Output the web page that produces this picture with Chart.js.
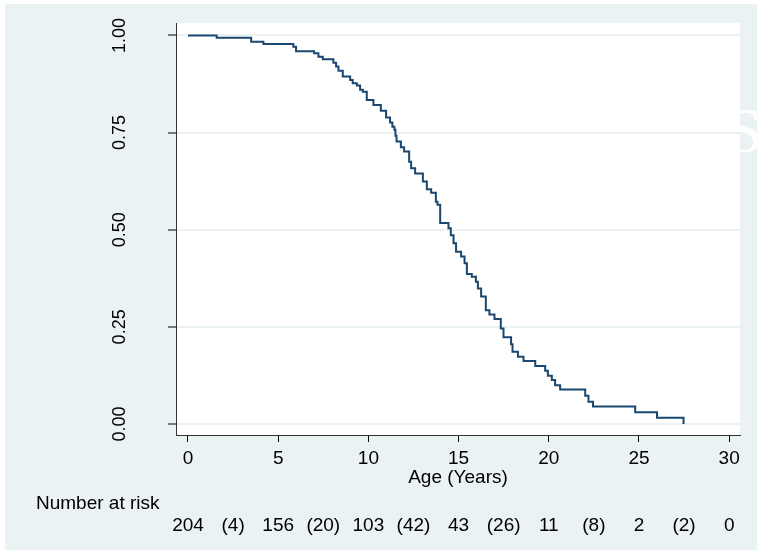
<!DOCTYPE html>
<html><head><meta charset="utf-8">
<script src="https://cdn.jsdelivr.net/npm/chart.js@4.4.0/dist/chart.umd.min.js"></script>
<style>html,body{margin:0;padding:0;background:#fff;overflow:hidden}#wrap{width:757px;height:551px;position:relative}</style>
</head><body><div id="wrap"><canvas id="c" width="757" height="551"></canvas></div>
<script>
// Kaplan-Meier estimate
const survTimes = [0,1.59,3.5,4.18,5.84,5.99,6.99,7.23,7.47,8.06,8.21,8.34,8.58,8.99,9.13,9.36,9.54,9.69,9.91,10.28,10.69,10.98,11.2,11.33,11.44,11.5,11.56,11.8,11.98,12.26,12.37,12.59,13.02,13.24,13.48,13.74,13.83,13.98,14.44,14.57,14.72,14.86,15.14,15.33,15.46,15.73,15.96,16.07,16.25,16.51,16.71,16.99,17.34,17.49,17.91,17.99,18.29,18.6,19.25,19.8,19.95,20.17,20.35,20.63,22.02,22.2,22.45,24.79,26.0,27.47];
const survProbs = [1.0,0.994,0.984,0.978,0.971,0.959,0.954,0.945,0.939,0.930,0.920,0.909,0.894,0.885,0.877,0.871,0.860,0.855,0.834,0.821,0.806,0.789,0.776,0.765,0.757,0.742,0.727,0.712,0.701,0.675,0.658,0.645,0.624,0.604,0.595,0.572,0.564,0.517,0.504,0.486,0.465,0.443,0.431,0.414,0.386,0.379,0.366,0.349,0.328,0.293,0.282,0.270,0.246,0.223,0.205,0.186,0.173,0.162,0.149,0.137,0.124,0.113,0.100,0.089,0.073,0.057,0.045,0.030,0.016,0.0];
const xTicks = [0,5,10,15,20,25,30];
const yTicks = [0,0.25,0.5,0.75,1];
const yTickLabels = ['0.00','0.25','0.50','0.75','1.00'];
const riskTimes = [0,5,10,15,20,25,30];
const atRisk = [204,156,103,43,11,2,0];
const censorTimes = [2.5,7.5,12.5,17.5,22.5,27.5];
const censored = [4,20,42,26,8,2];
const xTitle = 'Age (Years)';
const riskTitle = 'Number at risk';

const FONT = '"Liberation Sans", Arial, sans-serif';
const BG = '#EAF2F3';

const decor = {
  id: 'decor',
  beforeDraw(chart) {
    const ctx = chart.ctx, a = chart.chartArea;
    ctx.save();
    ctx.fillStyle = '#fff';
    ctx.fillRect(0, 0, chart.width, chart.height);
    ctx.fillStyle = BG;
    ctx.fillRect(5, 4, chart.width - 5, chart.height - 5);
    ctx.fillStyle = '#fff';
    ctx.fillRect(a.left, a.top, a.right - a.left, a.bottom - a.top);
    ctx.restore();
  },
  afterDraw(chart) {
    const ctx = chart.ctx, xs = chart.scales.x, ys = chart.scales.y;
    ctx.save();
    ctx.fillStyle = '#000';
    ctx.font = '18px ' + FONT;
    // rotated y tick labels
    yTicks.forEach((v, i) => {
      const py = ys.getPixelForValue(v);
      ctx.save();
      ctx.translate(125, py);
      ctx.rotate(-Math.PI / 2);
      ctx.textAlign = 'center';
      ctx.textBaseline = 'alphabetic';
      ctx.fillText(yTickLabels[i], 0, 0);
      ctx.restore();
    });
    ctx.font = '19px ' + FONT;
    ctx.textAlign = 'center';
    ctx.textBaseline = 'alphabetic';
    ctx.fillText(xTitle, (chart.chartArea.left + chart.chartArea.right) / 2, 483);
    ctx.textAlign = 'left';
    ctx.fillText(riskTitle, 36, 509);
    ctx.textAlign = 'center';
    riskTimes.forEach((t, i) => ctx.fillText(String(atRisk[i]), xs.getPixelForValue(t), 531));
    censorTimes.forEach((t, i) => ctx.fillText('(' + censored[i] + ')', xs.getPixelForValue(t), 531));
    // faint watermark fragment
    ctx.fillStyle = '#fff';
    ctx.font = '64px "Liberation Serif", serif';
    ctx.textAlign = 'left';
    ctx.fillText('S', 727, 152);
    ctx.restore();
  }
};

new Chart(document.getElementById('c'), {
  type: 'line',
  data: {
    datasets: [{
      data: survTimes.map((t, i) => ({ x: t, y: survProbs[i] })),
      stepped: true,
      borderColor: '#1A476F',
      borderWidth: 2,
      pointRadius: 0,
      fill: false
    }]
  },
  options: {
    responsive: false,
    animation: false,
    devicePixelRatio: 1,
    layout: { padding: { top: 23, right: 17, left: 0, bottom: 0 } },
    plugins: { legend: { display: false }, tooltip: { enabled: false } },
    scales: {
      x: {
        type: 'linear',
        min: -0.665, max: 30.6,
        afterBuildTicks: s => { s.ticks = xTicks.map(v => ({ value: v })); },
        afterFit: s => { s.height = 116; },
        grid: { drawOnChartArea: false, drawTicks: true, tickLength: 7, tickColor: '#000', tickWidth: 1 },
        border: { color: '#333', width: 1 },
        ticks: { color: '#000', font: { family: FONT, size: 19 }, padding: 5, autoSkip: false, maxRotation: 0, minRotation: 0 }
      },
      y: {
        type: 'linear',
        min: -0.0283, max: 1.032,
        afterBuildTicks: s => { s.ticks = yTicks.map(v => ({ value: v })); },
        afterFit: s => { s.width = 176; },
        grid: { color: BG, lineWidth: 2, drawTicks: true, tickLength: 8, tickColor: '#000', tickWidth: 1 },
        border: { color: '#333', width: 1 },
        ticks: { display: false }
      }
    }
  },
  plugins: [decor]
});
</script>
</body></html>
